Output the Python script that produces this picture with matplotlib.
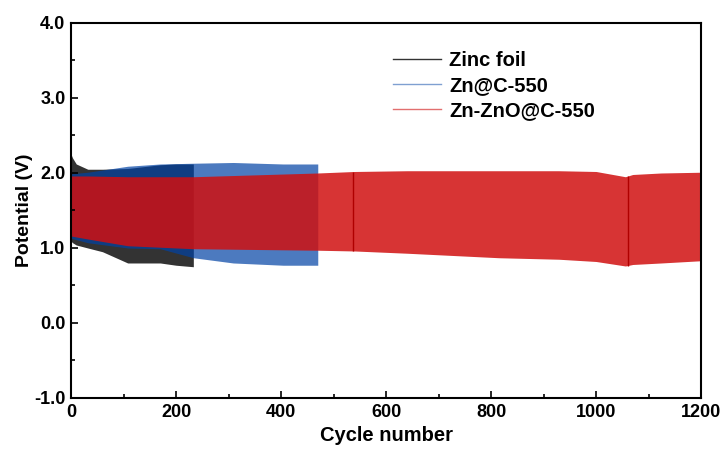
import numpy as np
import matplotlib
matplotlib.use("Agg")
import matplotlib.pyplot as plt
from matplotlib.ticker import MultipleLocator, FormatStrFormatter
from matplotlib.lines import Line2D

plt.rcParams['font.family'] = ['Liberation Sans', 'DejaVu Sans']
plt.rcParams['font.weight'] = 'bold'
plt.rcParams['axes.unicode_minus'] = False

# Zinc foil: envelope of the voltage profile (upper / lower limit per cycle)
zinc_cycles = [0, 3, 10, 32, 60, 108, 170, 200, 233]
zinc_upper = [2.25, 2.20, 2.12, 2.05, 2.05, 2.06, 2.11, 2.12, 2.12]
zinc_lower = [1.09, 1.07, 1.04, 1.00, 0.95, 0.80, 0.80, 0.77, 0.75]

# Zn@C-550
znc_cycles = [0, 32, 108, 170, 233, 309, 404, 470]
znc_upper = [1.99, 2.01, 2.09, 2.12, 2.13, 2.14, 2.12, 2.12]
znc_lower = [1.13, 1.07, 1.00, 0.99, 0.87, 0.80, 0.77, 0.77]

# Zn-ZnO@C-550
znzno_cycles = [0, 32, 108, 233, 470, 540, 640, 815, 929, 1000, 1056, 1070, 1124, 1200]
znzno_upper = [1.96, 1.96, 1.95, 1.95, 2.00, 2.02, 2.03, 2.03, 2.03, 2.02, 1.95, 1.98, 2.00, 2.01]
znzno_lower = [1.16, 1.12, 1.03, 0.99, 0.97, 0.96, 0.93, 0.87, 0.85, 0.82, 0.76, 0.78, 0.80, 0.83]
znzno_spikes = [538, 1060]

labels = ['Zinc foil', 'Zn@C-550', 'Zn-ZnO@C-550']
colors = ['#333333', '#0042A4', '#D01010']
alphas = [1.0, 0.7, 0.85]

fig = plt.figure(figsize=(7.26, 4.5), dpi=100)
ax = fig.add_axes([0.0978, 0.1156, 0.8678, 0.8333])

series = [
    (zinc_cycles, zinc_upper, zinc_lower),
    (znc_cycles, znc_upper, znc_lower),
    (znzno_cycles, znzno_upper, znzno_lower),
]
for (cyc, up, lo), c, a in zip(series, colors, alphas):
    ax.fill_between(cyc, lo, up, color=c, alpha=a, linewidth=0)

spike_lo = np.interp(znzno_spikes, znzno_cycles, znzno_lower)
spike_hi = np.interp(znzno_spikes, znzno_cycles, znzno_upper)
ax.vlines(znzno_spikes, spike_lo, spike_hi, color='#B00000', linewidth=1)

ax.set_xlim(0, 1200)
ax.set_ylim(-1.0, 4.0)
ax.xaxis.set_major_locator(MultipleLocator(200))
ax.xaxis.set_minor_locator(MultipleLocator(100))
ax.yaxis.set_major_locator(MultipleLocator(1.0))
ax.yaxis.set_minor_locator(MultipleLocator(0.5))
ax.yaxis.set_major_formatter(FormatStrFormatter('%.1f'))
ax.tick_params(which='both', direction='in', top=False, right=False,
               labelsize=13, width=1.2)
ax.tick_params(which='major', length=5, pad=4)
ax.tick_params(which='minor', length=3)
for sp in ax.spines.values():
    sp.set_linewidth(1.5)

ax.set_xlabel('Cycle number', fontsize=14.5, fontweight='bold', labelpad=4)
ax.set_ylabel('Potential (V)', fontsize=14, fontweight='bold', labelpad=1)

handles = [Line2D([], [], color=c, alpha=a, linewidth=1)
           for c, a in zip(colors, [1.0, 0.5, 0.6])]
ax.legend(handles, labels, loc='upper left', bbox_to_anchor=(0.482, 0.973),
          frameon=False, handlelength=2.4, handletextpad=0.4,
          labelspacing=0.3, prop={'weight': 'bold', 'size': 14.5})

fig.savefig('out.png', dpi=100)
